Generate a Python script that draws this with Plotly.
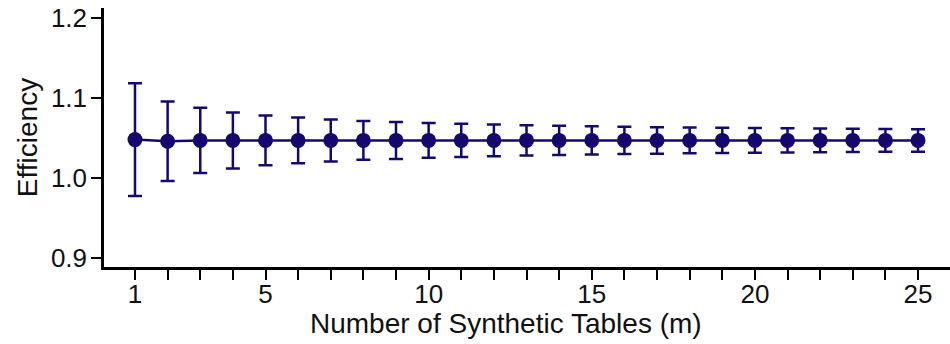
import plotly.graph_objects as go

m_values = list(range(1, 26))
efficiency = [1.048, 1.046, 1.047, 1.047, 1.047, 1.047, 1.047, 1.047, 1.047, 1.047,
              1.047, 1.047, 1.047, 1.047, 1.047, 1.047, 1.047, 1.047, 1.047, 1.047,
              1.047, 1.047, 1.047, 1.047, 1.047]
error_half = [0.0705, 0.0496, 0.0408, 0.0350, 0.0312, 0.0286, 0.0263, 0.0243, 0.0231, 0.0218,
              0.0207, 0.0198, 0.0190, 0.0182, 0.0176, 0.0170, 0.0166, 0.0161, 0.0158, 0.0155,
              0.0152, 0.0149, 0.0146, 0.0143, 0.0141]
x_tick_vals = list(range(1, 26))
x_tick_text = [str(v) if v in (1, 5, 10, 15, 20, 25) else "" for v in x_tick_vals]
y_tick_vals = [0.9, 1.0, 1.1, 1.2]
x_title = "Number of Synthetic Tables (m)"
y_title = "Efficiency"

color = "#14086e"
family = "Liberation Sans, Arial, sans-serif"
tick_font = dict(family=family, size=26, color="#111111")
title_font = dict(family=family, size=28, color="#111111")

fig = go.Figure()
fig.add_trace(go.Scatter(
    x=m_values, y=efficiency, mode="lines+markers",
    line=dict(color=color, width=2.5),
    marker=dict(color=color, size=15),
    error_y=dict(type="data", array=error_half, visible=True,
                 color=color, thickness=2.5, width=7),
    showlegend=False,
))

fig.update_layout(
    width=950, height=344,
    margin=dict(l=104, r=0, t=8, b=77),
    paper_bgcolor="white", plot_bgcolor="white",
    font=tick_font,
    xaxis=dict(
        range=[0.05, 25.98], tickvals=x_tick_vals, ticktext=x_tick_text,
        showgrid=False, zeroline=False, showline=True, linecolor="black", linewidth=2.5,
        ticks="outside", ticklen=10, tickwidth=2, tickcolor="black",
        tickfont=tick_font, ticklabelstandoff=-8,
        automargin=False,
    ),
    yaxis=dict(
        range=[0.8887, 1.2126], tickvals=y_tick_vals, tickformat=".1f",
        showgrid=False, zeroline=False, showline=True, linecolor="black", linewidth=2.5,
        ticks="outside", ticklen=10, tickwidth=2, tickcolor="black",
        tickfont=tick_font, ticklabelstandoff=-1,
        title=dict(text=y_title, standoff=6, font=title_font),
        automargin=False,
    ),
    annotations=[dict(
        text=x_title, xref="paper", yref="paper", x=0.475, y=-0.22,
        xanchor="center", yanchor="middle", showarrow=False, font=title_font,
    )],
)

fig.write_html("out.html", post_script="document.body.style.margin='0';",
               config={"displayModeBar": False})
